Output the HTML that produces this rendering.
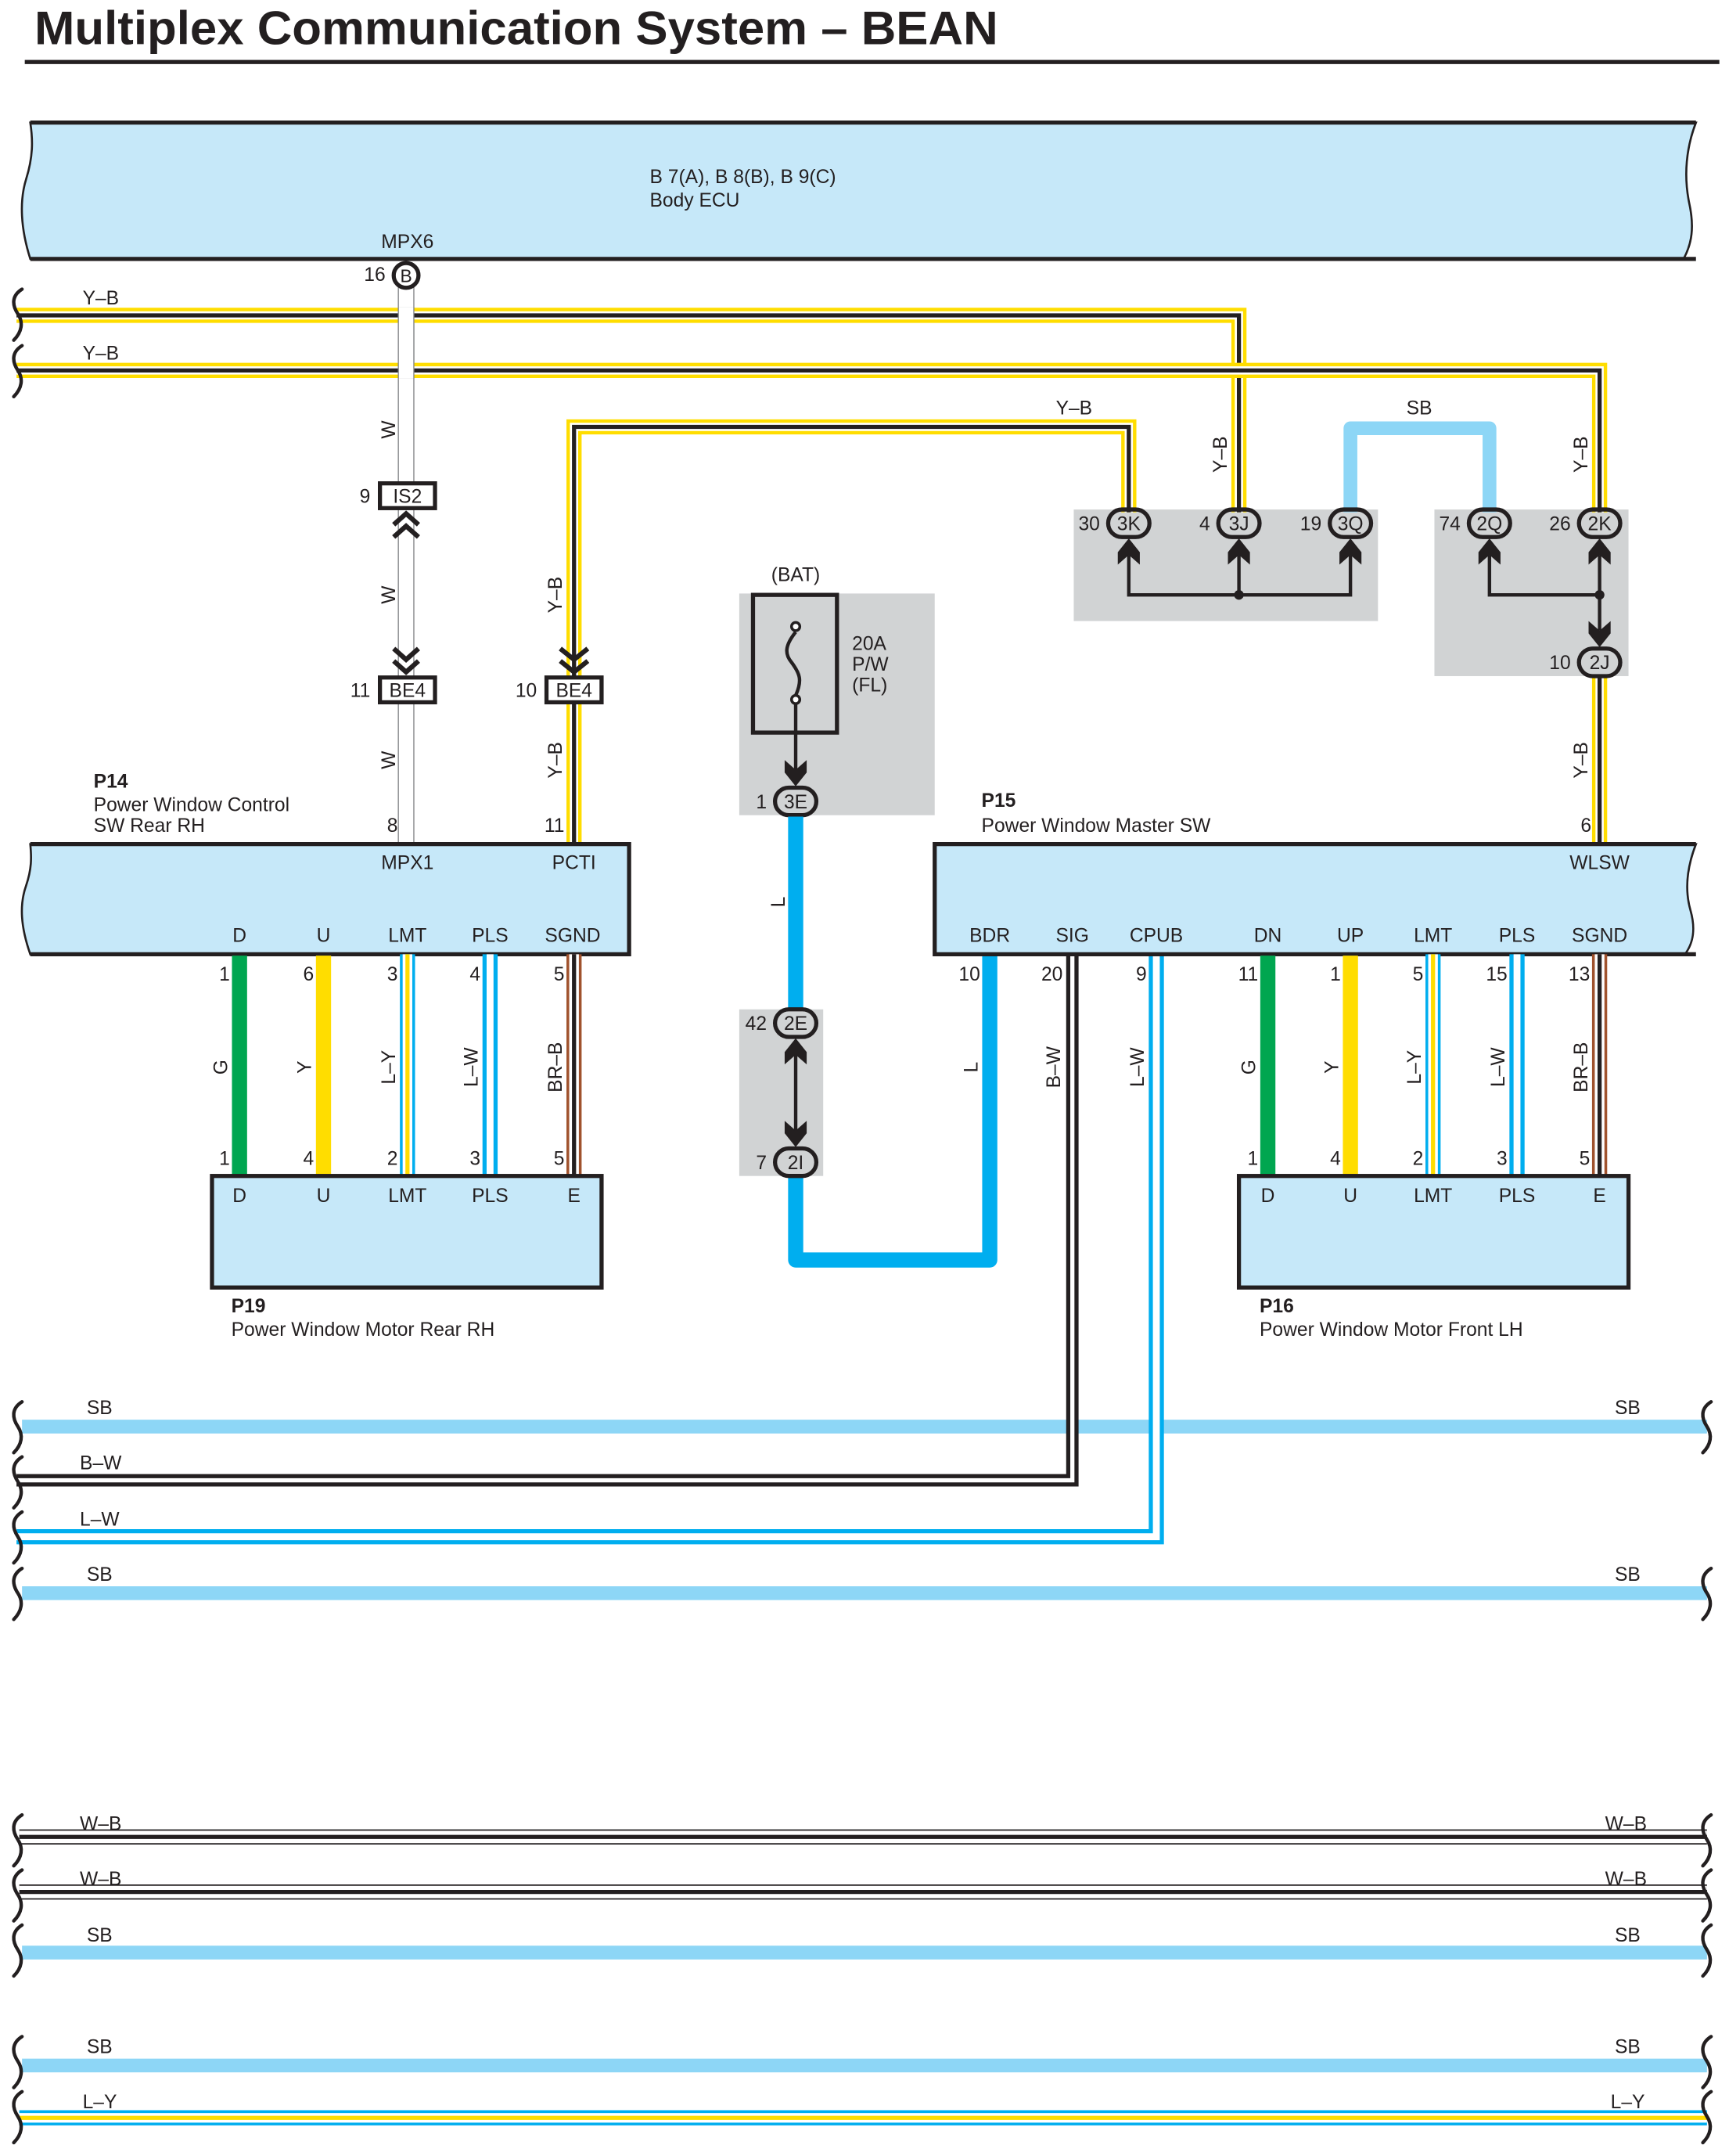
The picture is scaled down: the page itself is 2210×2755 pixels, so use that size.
<!DOCTYPE html>
<html><head><meta charset="utf-8"><style>
html,body{margin:0;padding:0;background:#fff;width:2210px;height:2755px;overflow:hidden}
svg{display:block}
text{font-family:"Liberation Sans",sans-serif;font-size:14px;fill:#231f20}
.b{font-weight:bold}
.m{text-anchor:middle}
.e{text-anchor:end}
.yo{stroke:#ffdd00;stroke-width:11;fill:none}
.wh{stroke:#fff;stroke-width:6;fill:none}
.bk{stroke:#231f20;stroke-width:3;fill:none}
.sb{stroke:#8dd6f6;stroke-width:10;fill:none;stroke-linejoin:round}
.lb{stroke:#00aeef;stroke-width:11;fill:none;stroke-linejoin:round}
.bwo{stroke:#231f20;stroke-width:9;fill:none}
.bwi{stroke:#fff;stroke-width:3;fill:none}
.lwo{stroke:#00aeef;stroke-width:11;fill:none}
.lwi{stroke:#fff;stroke-width:5;fill:none}
.wo{stroke:#808285;stroke-width:12;fill:none}
.wi{stroke:#fff;stroke-width:10.5;fill:none}
.g{stroke:#00a650;stroke-width:11;fill:none}
.y{stroke:#ffdd00;stroke-width:11;fill:none}
.lyc{stroke:#ffdd00;stroke-width:3;fill:none}
.br{stroke:#a0522d;stroke-width:11;fill:none}
.brw{stroke:#fff;stroke-width:7;fill:none}
.brc{stroke:#231f20;stroke-width:3;fill:none}
.wav{stroke:#231f20;stroke-width:2.5;fill:none;stroke-linecap:round}
.pill{fill:none;stroke:#231f20;stroke-width:3}
</style></head><body>
<svg width="2210" height="2755" viewBox="0 0 1256 1565.7" xmlns="http://www.w3.org/2000/svg" xmlns:xlink="http://www.w3.org/1999/xlink">
<defs>
<path id="yb1" d="M12,229 H900 V372"/>
<path id="yb2" d="M12,269 H1162 V372"/>
<path id="yb3" d="M417,492 V310 H820 V372"/>
<path id="yb4" d="M417,510 V612"/>
<path id="yb5" d="M1162,490 V612"/>
<path id="bw" d="M779,693 V1075 H12"/>
<path id="lw" d="M840,693 V1116 H12"/>
<path id="ly1" d="M296,693 V853"/><path id="lw1" d="M356,693 V853"/><path id="br1" d="M417,693 V853"/>
<path id="ly2" d="M1041,693 V853"/><path id="lw2" d="M1102,693 V853"/><path id="br2" d="M1162,693 V853"/>
<path id="wb1" d="M14,1334 H1240"/><path id="wb2" d="M14,1374 H1240"/>
<path id="ly3" d="M14,1538 H1240"/>
<path id="bk" d="M-5,0 c-8,5 -7,12 -3,18 c4,6 3,13 -3,19" />
</defs>

<!-- title -->
<text x="25" y="32" class="b" style="font-size:34px" textLength="700" lengthAdjust="spacingAndGlyphs">Multiplex Communication System – BEAN</text>
<rect x="18" y="43.5" width="1231" height="3" fill="#231f20"/>

<!-- gray boxes -->
<rect x="780" y="370" width="221" height="81" fill="#d1d3d4"/>
<rect x="1042" y="370" width="141" height="121" fill="#d1d3d4"/>
<rect x="537" y="431" width="142" height="161" fill="#d1d3d4"/>
<rect x="537" y="733" width="61" height="121" fill="#d1d3d4"/>

<!-- Body ECU -->
<path d="M22,89 H1232 c-7,18 -9,38 -5,58 c4,18 2,30 -4,41 H22 c-7,-22 -8,-42 -3,-58 c5,-16 5,-28 3,-41 Z" fill="#c6e8f9" stroke="#231f20" stroke-width="1.5"/>
<line x1="22" y1="89" x2="1232" y2="89" stroke="#231f20" stroke-width="3"/>
<line x1="22" y1="188" x2="1232" y2="188" stroke="#231f20" stroke-width="3"/>
<text x="472" y="133">B 7(A), B 8(B), B 9(C)</text>
<text x="472" y="150">Body ECU</text>
<text x="296" y="180" class="m">MPX6</text>

<!-- W wire -->
<path class="wo" d="M295,208 V351 M295,369 V492 M295,510 V612"/>
<path class="wi" d="M295,208 V351 M295,369 V492 M295,510 V612"/>

<!-- Y-B wires -->
<use xlink:href="#yb1" class="yo"/><use xlink:href="#yb1" class="wh"/><use xlink:href="#yb1" class="bk"/>
<use xlink:href="#yb2" class="yo"/><use xlink:href="#yb2" class="wh"/><use xlink:href="#yb2" class="bk"/>
<use xlink:href="#yb3" class="yo"/><use xlink:href="#yb3" class="wh"/><use xlink:href="#yb3" class="bk"/>
<use xlink:href="#yb4" class="yo"/><use xlink:href="#yb4" class="wh"/><use xlink:href="#yb4" class="bk"/>
<use xlink:href="#yb5" class="yo"/><use xlink:href="#yb5" class="wh"/><use xlink:href="#yb5" class="bk"/>
<!-- redraw W over first Y-B crossings -->
<path d="M295,223 V275" stroke="#808285" stroke-width="12"/>
<path d="M295,223 V275" stroke="#fff" stroke-width="10.5"/>

<!-- SB loop -->
<path class="sb" d="M981,372 V311 H1082 V372"/>
<text x="1031" y="301" class="m">SB</text>

<!-- ECU connector -->
<circle cx="295" cy="200" r="9" fill="#fff" stroke="#231f20" stroke-width="3"/>
<text x="295" y="205" class="m" style="font-size:13px">B</text>
<text x="280" y="204" class="e">16</text>

<!-- left brackets top -->
<use xlink:href="#bk" class="wav" transform="translate(21,210)"/>
<use xlink:href="#bk" class="wav" transform="translate(21,251)"/>
<text x="60" y="221">Y–B</text>
<text x="60" y="261">Y–B</text>
<text x="767" y="301">Y–B</text>

<!-- rotated labels -->
<text transform="translate(287,312) rotate(-90)" class="m">W</text>
<text transform="translate(287,432) rotate(-90)" class="m">W</text>
<text transform="translate(287,552) rotate(-90)" class="m">W</text>
<text transform="translate(408,432) rotate(-90)" class="m">Y–B</text>
<text transform="translate(408,552) rotate(-90)" class="m">Y–B</text>
<text transform="translate(891,330) rotate(-90)" class="m">Y–B</text>
<text transform="translate(1153,330) rotate(-90)" class="m">Y–B</text>
<text transform="translate(1153,552) rotate(-90)" class="m">Y–B</text>

<!-- IS2 / BE4 -->
<rect x="276" y="351" width="40" height="18" fill="#fff" stroke="#231f20" stroke-width="3"/>
<text x="296" y="365" class="m">IS2</text><text x="269" y="365" class="e">9</text>
<path d="M286,381 l9,-8 l9,8 M286,390 l9,-8 l9,8" stroke="#231f20" stroke-width="3.5" fill="none"/>
<path d="M286,471 l9,8 l9,-8 M286,480 l9,8 l9,-8" stroke="#231f20" stroke-width="3.5" fill="none"/>
<rect x="276" y="492" width="40" height="18" fill="#fff" stroke="#231f20" stroke-width="3"/>
<text x="296" y="506" class="m">BE4</text><text x="269" y="506" class="e">11</text>
<path d="M407,471 l10,8 l10,-8 M407,480 l10,8 l10,-8" stroke="#231f20" stroke-width="3.5" fill="none"/>
<rect x="397" y="492" width="40" height="18" fill="#fff" stroke="#231f20" stroke-width="3"/>
<text x="417" y="506" class="m">BE4</text><text x="390" y="506" class="e">10</text>

<!-- junction connectors -->
<g>
<rect x="805" y="370" width="30" height="20" rx="10" class="pill"/><text x="820" y="385" class="m">3K</text><text x="799" y="385" class="e">30</text>
<rect x="885" y="370" width="30" height="20" rx="10" class="pill"/><text x="900" y="385" class="m">3J</text><text x="879" y="385" class="e">4</text>
<rect x="966" y="370" width="30" height="20" rx="10" class="pill"/><text x="981" y="385" class="m">3Q</text><text x="960" y="385" class="e">19</text>
<rect x="1067" y="370" width="30" height="20" rx="10" class="pill"/><text x="1082" y="385" class="m">2Q</text><text x="1061" y="385" class="e">74</text>
<rect x="1147" y="370" width="30" height="20" rx="10" class="pill"/><text x="1162" y="385" class="m">2K</text><text x="1141" y="385" class="e">26</text>
<rect x="1147" y="471" width="30" height="20" rx="10" class="pill"/><text x="1162" y="486" class="m">2J</text><text x="1141" y="486" class="e">10</text>
</g>
<g fill="#231f20">
<polygon points="820,391 828,401 828,410 820,403 812,410 812,401"/>
<polygon points="900,391 908,401 908,410 900,403 892,410 892,401"/>
<polygon points="981,391 989,401 989,410 981,403 973,410 973,401"/>
<polygon points="1082,391 1090,401 1090,410 1082,403 1074,410 1074,401"/>
<polygon points="1162,391 1170,401 1170,410 1162,403 1154,410 1154,401"/>
<polygon points="1162,470 1170,460 1170,451 1162,458 1154,451 1154,460"/>
<circle cx="900" cy="432" r="3.5"/><circle cx="1162" cy="432" r="3.5"/>
</g>
<path d="M820,403 V432 H981 V403 M900,403 V432 M1082,403 V432 H1162 M1162,403 V458" stroke="#231f20" stroke-width="2.5" fill="none"/>

<!-- BAT fuse -->
<text x="578" y="422" class="m">(BAT)</text>
<rect x="547" y="432" width="61" height="100" fill="none" stroke="#231f20" stroke-width="3"/>
<path d="M578,459 c-8,10 -8,16 -3,22 c6,8 8,13 3,24" stroke="#231f20" stroke-width="2.5" fill="none"/>
<circle cx="578" cy="455" r="3" fill="#fff" stroke="#231f20" stroke-width="2"/>
<circle cx="578" cy="508" r="3" fill="#fff" stroke="#231f20" stroke-width="2"/>
<line x1="578" y1="511" x2="578" y2="565" stroke="#231f20" stroke-width="2.5"/>
<text x="619" y="472">20A</text><text x="619" y="487">P/W</text><text x="619" y="502">(FL)</text>
<polygon points="578,571 586,561 586,552 578,559 570,552 570,561" fill="#231f20"/>
<rect x="563" y="572" width="30" height="20" rx="10" class="pill"/><text x="578" y="587" class="m">3E</text><text x="557" y="587" class="e">1</text>

<!-- L wire -->
<path class="lb" d="M578,593 V733"/>
<path class="lb" d="M578,854 V915 H719 V693"/>
<text transform="translate(570,655) rotate(-90)" class="m">L</text>
<rect x="563" y="733" width="30" height="20" rx="10" class="pill"/><text x="578" y="748" class="m">2E</text><text x="557" y="748" class="e">42</text>
<rect x="563" y="834" width="30" height="20" rx="10" class="pill"/><text x="578" y="849" class="m">2I</text><text x="557" y="849" class="e">7</text>
<polygon points="578,754 586,764 586,773 578,766 570,773 570,764" fill="#231f20"/>
<polygon points="578,833 586,823 586,814 578,821 570,814 570,823" fill="#231f20"/>
<line x1="578" y1="766" x2="578" y2="821" stroke="#231f20" stroke-width="2.5"/>

<!-- bottom bus lines -->
<path class="sb" d="M16,1036 H1240"/>
<path class="sb" d="M16,1157 H1240"/>
<path class="sb" d="M16,1418 H1240"/>
<path class="sb" d="M16,1500 H1240"/>

<!-- B-W and L-W -->
<use xlink:href="#bw" class="bwo"/><use xlink:href="#bw" class="bwi"/>
<use xlink:href="#lw" class="lwo"/><use xlink:href="#lw" class="lwi"/>

<!-- W-B -->
<use xlink:href="#wb1" style="stroke:#231f20;stroke-width:11;fill:none"/><use xlink:href="#wb1" style="stroke:#fff;stroke-width:9;fill:none"/><use xlink:href="#wb1" style="stroke:#231f20;stroke-width:3;fill:none"/>
<use xlink:href="#wb2" style="stroke:#231f20;stroke-width:11;fill:none"/><use xlink:href="#wb2" style="stroke:#fff;stroke-width:9;fill:none"/><use xlink:href="#wb2" style="stroke:#231f20;stroke-width:3;fill:none"/>
<!-- L-Y bottom -->
<use xlink:href="#ly3" class="lwo"/><use xlink:href="#ly3" class="brw"/><use xlink:href="#ly3" class="lyc"/>

<!-- P14 box -->
<text x="68" y="572" class="b">P14</text>
<text x="68" y="589">Power Window Control</text>
<text x="68" y="604">SW Rear RH</text>
<text x="289" y="604" class="e">8</text><text x="410" y="604" class="e">11</text>
<path d="M22,613 H457 V693 H22 c-7,-20 -8,-36 -3,-50 c4,-12 4,-20 3,-30 Z" fill="#c6e8f9" stroke="#231f20" stroke-width="1.5"/>
<path d="M22,613 H457 V693 H22" fill="none" stroke="#231f20" stroke-width="3"/>
<text x="296" y="631" class="m">MPX1</text><text x="417" y="631" class="m">PCTI</text>
<text x="174" y="684" class="m">D</text><text x="235" y="684" class="m">U</text><text x="296" y="684" class="m">LMT</text><text x="356" y="684" class="m">PLS</text><text x="416" y="684" class="m">SGND</text>

<!-- P15 box -->
<text x="713" y="586" class="b">P15</text>
<text x="713" y="604">Power Window Master SW</text>
<text x="1156" y="604" class="e">6</text>
<path d="M679,613 H1232 c-7,18 -8,34 -4,48 c4,14 2,24 -4,32 H679 Z" fill="#c6e8f9" stroke="#231f20" stroke-width="1.5"/>
<path d="M1232,613 H679 V693 H1232" fill="none" stroke="#231f20" stroke-width="3"/>
<text x="1162" y="631" class="m">WLSW</text>
<text x="719" y="684" class="m">BDR</text><text x="779" y="684" class="m">SIG</text><text x="840" y="684" class="m">CPUB</text><text x="921" y="684" class="m">DN</text><text x="981" y="684" class="m">UP</text><text x="1041" y="684" class="m">LMT</text><text x="1102" y="684" class="m">PLS</text><text x="1162" y="684" class="m">SGND</text>
<text x="712" y="712" class="e">10</text><text x="772" y="712" class="e">20</text><text x="833" y="712" class="e">9</text>
<text transform="translate(710,775) rotate(-90)" class="m">L</text>
<text transform="translate(770,775) rotate(-90)" class="m">B–W</text>
<text transform="translate(831,775) rotate(-90)" class="m">L–W</text>

<!-- P14/P19 wires -->
<path class="g" d="M174,694 V853"/><path class="y" d="M235,694 V853"/>
<use xlink:href="#ly1" class="lwo"/><use xlink:href="#ly1" class="brw"/><use xlink:href="#ly1" class="lyc"/>
<use xlink:href="#lw1" class="lwo"/><use xlink:href="#lw1" class="lwi"/>
<use xlink:href="#br1" class="br"/><use xlink:href="#br1" class="brw"/><use xlink:href="#br1" class="brc"/>
<text x="167" y="712" class="e">1</text><text x="228" y="712" class="e">6</text><text x="289" y="712" class="e">3</text><text x="349" y="712" class="e">4</text><text x="410" y="712" class="e">5</text>
<text x="167" y="846" class="e">1</text><text x="228" y="846" class="e">4</text><text x="289" y="846" class="e">2</text><text x="349" y="846" class="e">3</text><text x="410" y="846" class="e">5</text>
<text transform="translate(165,775) rotate(-90)" class="m">G</text>
<text transform="translate(226,775) rotate(-90)" class="m">Y</text>
<text transform="translate(287,775) rotate(-90)" class="m">L–Y</text>
<text transform="translate(347,775) rotate(-90)" class="m">L–W</text>
<text transform="translate(408,775) rotate(-90)" class="m">BR–B</text>

<!-- P16 wires -->
<path class="g" d="M921,694 V853"/><path class="y" d="M981,694 V853"/>
<use xlink:href="#ly2" class="lwo"/><use xlink:href="#ly2" class="brw"/><use xlink:href="#ly2" class="lyc"/>
<use xlink:href="#lw2" class="lwo"/><use xlink:href="#lw2" class="lwi"/>
<use xlink:href="#br2" class="br"/><use xlink:href="#br2" class="brw"/><use xlink:href="#br2" class="brc"/>
<text x="914" y="712" class="e">11</text><text x="974" y="712" class="e">1</text><text x="1034" y="712" class="e">5</text><text x="1095" y="712" class="e">15</text><text x="1155" y="712" class="e">13</text>
<text x="914" y="846" class="e">1</text><text x="974" y="846" class="e">4</text><text x="1034" y="846" class="e">2</text><text x="1095" y="846" class="e">3</text><text x="1155" y="846" class="e">5</text>
<text transform="translate(912,775) rotate(-90)" class="m">G</text>
<text transform="translate(972,775) rotate(-90)" class="m">Y</text>
<text transform="translate(1032,775) rotate(-90)" class="m">L–Y</text>
<text transform="translate(1093,775) rotate(-90)" class="m">L–W</text>
<text transform="translate(1153,775) rotate(-90)" class="m">BR–B</text>

<!-- P19 -->
<rect x="154" y="854" width="283" height="81" fill="#c6e8f9" stroke="#231f20" stroke-width="3"/>
<text x="174" y="873" class="m">D</text><text x="235" y="873" class="m">U</text><text x="296" y="873" class="m">LMT</text><text x="356" y="873" class="m">PLS</text><text x="417" y="873" class="m">E</text>
<text x="168" y="953" class="b">P19</text><text x="168" y="970">Power Window Motor Rear RH</text>

<!-- P16 -->
<rect x="900" y="854" width="283" height="81" fill="#c6e8f9" stroke="#231f20" stroke-width="3"/>
<text x="921" y="873" class="m">D</text><text x="981" y="873" class="m">U</text><text x="1041" y="873" class="m">LMT</text><text x="1102" y="873" class="m">PLS</text><text x="1162" y="873" class="m">E</text>
<text x="915" y="953" class="b">P16</text><text x="915" y="970">Power Window Motor Front LH</text>

<!-- bottom labels -->
<text x="63" y="1027">SB</text><text x="1173" y="1027">SB</text>
<text x="58" y="1067">B–W</text>
<text x="58" y="1108">L–W</text>
<text x="63" y="1148">SB</text><text x="1173" y="1148">SB</text>
<text x="58" y="1329">W–B</text><text x="1166" y="1329">W–B</text>
<text x="58" y="1369">W–B</text><text x="1166" y="1369">W–B</text>
<text x="63" y="1410">SB</text><text x="1173" y="1410">SB</text>
<text x="63" y="1491">SB</text><text x="1173" y="1491">SB</text>
<text x="60" y="1531">L–Y</text><text x="1170" y="1531">L–Y</text>

<!-- brackets -->
<g>
<use xlink:href="#bk" class="wav" transform="translate(21,1018)"/>
<use xlink:href="#bk" class="wav" transform="translate(21,1058)"/>
<use xlink:href="#bk" class="wav" transform="translate(21,1098)"/>
<use xlink:href="#bk" class="wav" transform="translate(21,1139)"/>
<use xlink:href="#bk" class="wav" transform="translate(21,1318)"/>
<use xlink:href="#bk" class="wav" transform="translate(21,1358)"/>
<use xlink:href="#bk" class="wav" transform="translate(21,1398)"/>
<use xlink:href="#bk" class="wav" transform="translate(21,1479)"/>
<use xlink:href="#bk" class="wav" transform="translate(21,1519)"/>
<use xlink:href="#bk" class="wav" transform="translate(1248,1018)"/>
<use xlink:href="#bk" class="wav" transform="translate(1248,1139)"/>
<use xlink:href="#bk" class="wav" transform="translate(1248,1318)"/>
<use xlink:href="#bk" class="wav" transform="translate(1248,1358)"/>
<use xlink:href="#bk" class="wav" transform="translate(1248,1398)"/>
<use xlink:href="#bk" class="wav" transform="translate(1248,1479)"/>
<use xlink:href="#bk" class="wav" transform="translate(1248,1519)"/>
</g>
</svg>
</body></html>
